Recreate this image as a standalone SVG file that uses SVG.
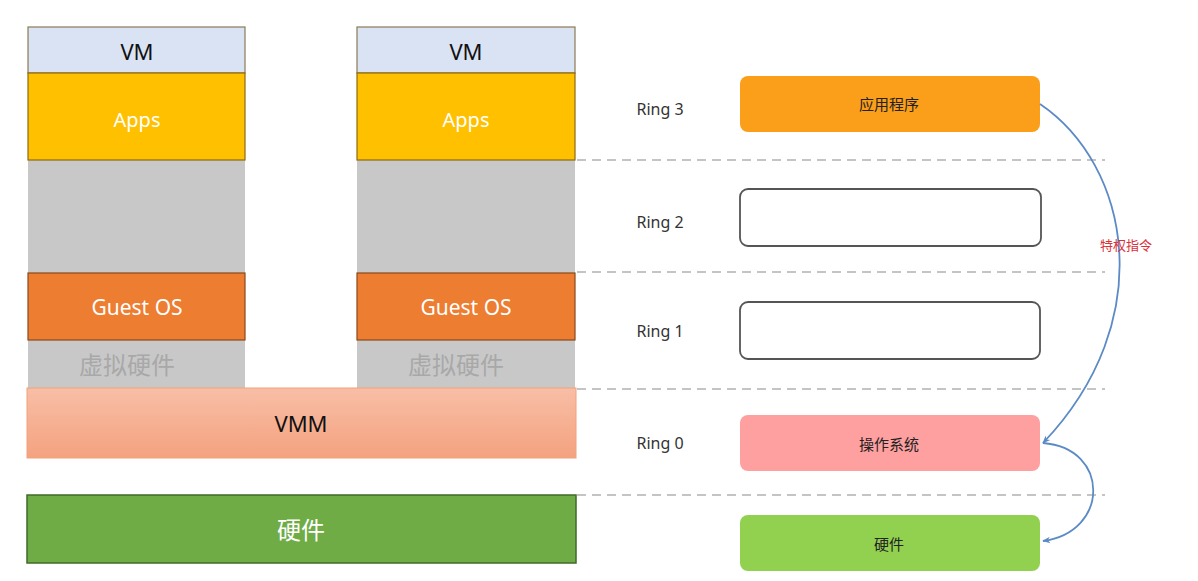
<svg xmlns="http://www.w3.org/2000/svg" width="1198" height="581" viewBox="0 0 1198 581">
<style>
text{font-family:"Noto Sans","Noto Sans CJK SC",sans-serif;text-anchor:middle;dominant-baseline:central}
.vm{fill:#DAE3F3;stroke:#8C7B55;stroke-width:1.2}
.apps{fill:#FFC000;stroke:#8C6A10;stroke-width:1.2}
.gray{fill:#C8C8C8}
.gos{fill:#ED7D31;stroke:#8A4A1C;stroke-width:1.2}
.w{fill:#fff;font-size:20px}
.g{fill:#fff;font-size:21px}
.b{fill:#111;font-size:22px}
.ring{fill:#333;font-size:16px}
.dash{stroke:#C4C4C4;stroke-width:2;stroke-dasharray:9 6;fill:none}
.rbox{stroke-width:1.8}
.lbl{fill:#222;font-size:15px}
.conn{fill:none;stroke:#5B8AC6;stroke-width:1.8}
</style>
<defs>
<linearGradient id="vmmg" x1="0" y1="0" x2="0" y2="1">
<stop offset="0" stop-color="#F8BEA6"/>
<stop offset="1" stop-color="#F4A27F"/>
</linearGradient>
<marker id="ah" viewBox="0 0 10 10" refX="9" refY="5" markerWidth="8" markerHeight="8" orient="auto-start-reverse" markerUnits="userSpaceOnUse">
<path d="M0,1 L10,5 L0,9 L3,5 Z" fill="#5B8AC6"/>
</marker>
</defs>
<g id="dashes">
<line class="dash" x1="577" y1="160" x2="1105" y2="160"/>
<line class="dash" x1="577" y1="272" x2="1105" y2="272"/>
<line class="dash" x1="577" y1="389" x2="1105" y2="389"/>
<line class="dash" x1="577" y1="495" x2="1105" y2="495"/>
</g>
<g id="vm1">
<rect class="gray" x="28" y="160" width="217" height="228"/>
<rect class="vm" x="28" y="27" width="217" height="46"/>
<text class="b" x="137" y="51">VM</text>
<rect class="apps" x="28" y="73" width="217" height="87"/>
<text class="w" x="137" y="119">Apps</text>
<rect class="gos" x="28" y="273" width="217" height="67"/>
<text class="g" x="137" y="307">Guest OS</text>
<text x="127" y="364" style="fill:#A8A8A8;font-size:24px">虚拟硬件</text>
</g>
<g id="vm2">
<rect class="gray" x="357" y="160" width="218" height="228"/>
<rect class="vm" x="357" y="27" width="218" height="46"/>
<text class="b" x="466" y="51">VM</text>
<rect class="apps" x="357" y="73" width="218" height="87"/>
<text class="w" x="466" y="119">Apps</text>
<rect class="gos" x="357" y="273" width="218" height="67"/>
<text class="g" x="466" y="307">Guest OS</text>
<text x="456" y="364" style="fill:#A8A8A8;font-size:24px">虚拟硬件</text>
</g>
<g id="vmm">
<rect x="27" y="388" width="549" height="70" fill="url(#vmmg)" stroke="#F4A07C" stroke-width="1"/>
<text class="b" x="301" y="423">VMM</text>
</g>
<g id="hw">
<rect x="27" y="495" width="549" height="68" fill="#6FAC46" stroke="#3F6B28" stroke-width="1.5"/>
<text x="301" y="529" style="fill:#fff;font-size:24px">硬件</text>
</g>
<g id="ring3">
<text class="ring" x="660" y="109">Ring 3</text>
<rect class="rbox" x="740" y="76" width="300" height="56" rx="8" fill="#FB9E1A"/>
<text class="lbl" x="889" y="104">应用程序</text>
</g>
<g id="ring2">
<text class="ring" x="660" y="222">Ring 2</text>
<rect class="rbox" x="740" y="189" width="301" height="57" rx="8" fill="#fff" stroke="#555"/>
</g>
<g id="ring1">
<text class="ring" x="660" y="331">Ring 1</text>
<rect class="rbox" x="740" y="302" width="300" height="57" rx="8" fill="#fff" stroke="#555"/>
</g>
<g id="ring0">
<text class="ring" x="660" y="443">Ring 0</text>
<rect class="rbox" x="740" y="415" width="300" height="56" rx="8" fill="#FFA0A0"/>
<text class="lbl" x="889" y="444">操作系统</text>
</g>
<g id="hw2">
<rect class="rbox" x="740" y="515" width="300" height="56" rx="8" fill="#92D050"/>
<text class="lbl" x="889" y="544">硬件</text>
</g>
<g id="connectors">
<path class="conn" d="M1040,104 C1130,165 1160,320 1043,443" marker-end="url(#ah)"/>
<path class="conn" d="M1043,443 C1110,448 1110,532 1043,541" marker-end="url(#ah)"/>
<text x="1126" y="245" style="fill:#D9303A;font-size:13px">特权指令</text>
</g>
</svg>
